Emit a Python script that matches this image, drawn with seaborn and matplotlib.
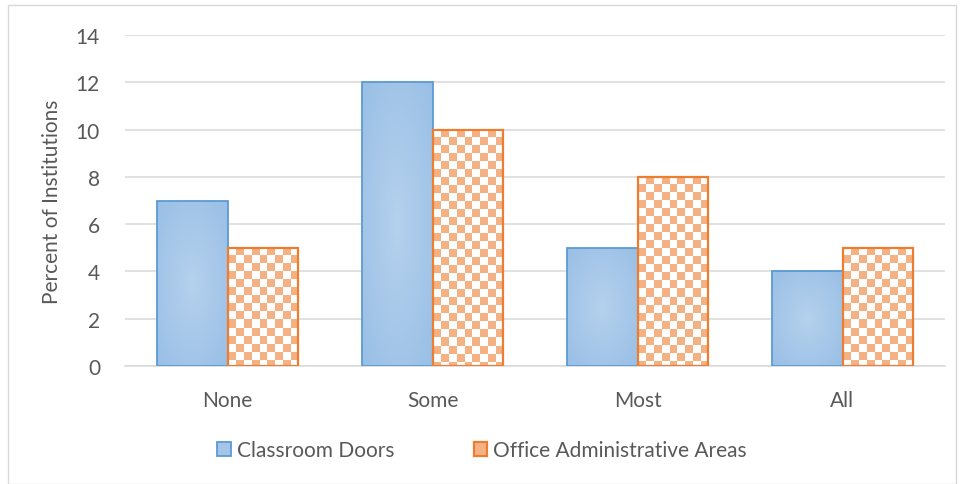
import numpy as np
import pandas as pd
import matplotlib
matplotlib.use("Agg")
import matplotlib.pyplot as plt
import seaborn as sns
from matplotlib.patches import Rectangle, Patch

# data
categories = ["None", "Some", "Most", "All"]
classroom_doors = [7, 12, 5, 4]
office_areas = [5, 10, 8, 5]
series_names = ["Classroom Doors", "Office Administrative Areas"]

df = pd.DataFrame({
    "Category": categories * 2,
    "Percent": classroom_doors + office_areas,
    "Series": [series_names[0]] * 4 + [series_names[1]] * 4,
})

sns.set_style("white")
plt.rcParams["font.family"] = ["Lato", "DejaVu Sans"]

txt = "#595959"
blue_edge = "#5B9BD5"
orange_edge = "#ED7D31"
orange_fill = "#F4B183"
fs = 15

fig = plt.figure(figsize=(9.64, 4.85), dpi=100)
ax = fig.add_axes([125 / 964, 1 - 367 / 485, 820 / 964, 331 / 485])

sns.barplot(data=df, x="Category", y="Percent", hue="Series",
            palette=["#A5C5E8", "white"], width=0.684, gap=0,
            saturation=1, legend=False, ax=ax, zorder=3)

ax.set_ylim(0, 14)
ax.set_xlim(-0.5, 3.5)
ax.set_yticks(range(0, 15, 2))
ax.yaxis.grid(True, color="#D9D9D9", linewidth=1.1, zorder=0)
ax.set_axisbelow(True)
for s in ["top", "right", "left"]:
    ax.spines[s].set_visible(False)
ax.spines["bottom"].set_color("#D9D9D9")
ax.spines["bottom"].set_linewidth(1.1)
ax.tick_params(axis="both", length=0, colors=txt, labelsize=fs)
ax.tick_params(axis="x", pad=17)
ax.tick_params(axis="y", pad=18)
ax.set_xlabel("")
ax.set_ylabel("Percent of Institutions", color=txt, fontsize=fs, labelpad=10)

# style the bars: gradient for blue, checkerboard for orange
n = len(categories)
patches = ax.patches[:2 * n]
yy, xx = np.mgrid[-1:1:120j, -1:1:60j]
rr = np.clip(np.sqrt(xx ** 2 + yy ** 2) / 1.4, 0, 1)
c_in = np.array([0.71, 0.82, 0.93])
c_out = np.array([0.60, 0.75, 0.90])
grad = c_in[None, None, :] * (1 - rr[..., None]) + c_out[None, None, :] * rr[..., None]
cell_h = 8 / 331 * 14
fc = matplotlib.colors.to_rgb(orange_fill)

for i, p in enumerate(patches):
    x0, y0 = p.get_x(), p.get_y()
    w, h = p.get_width(), p.get_height()
    p.set_facecolor("none")
    p.set_zorder(4)
    if i < n:
        p.set_edgecolor(blue_edge)
        p.set_linewidth(1.3)
        im = ax.imshow(grad, extent=[x0, x0 + w, y0, y0 + h], aspect="auto",
                       origin="lower", zorder=3, interpolation="bilinear")
        im.set_clip_path(p)
    else:
        p.set_edgecolor(orange_edge)
        p.set_linewidth(1.6)
        nx = 9
        ny = max(int(np.ceil(h / cell_h)), 1)
        chk = (np.add.outer(np.arange(ny), np.arange(nx)) % 2).astype(float)
        rgba = np.ones((ny, nx, 4))
        for k in range(3):
            rgba[..., k] = np.where(chk == 1, fc[k], 1.0)
        im = ax.imshow(rgba, extent=[x0, x0 + w, y0 + h - ny * cell_h, y0 + h],
                       aspect="auto", origin="upper", zorder=3,
                       interpolation="nearest")
        im.set_clip_path(p)

ax.set_xlim(-0.5, 3.5)
ax.set_ylim(0, 14)

# legend
handles = [
    Patch(facecolor="#A5C5E8", edgecolor=blue_edge, linewidth=1.3),
    Patch(facecolor=orange_fill, edgecolor=orange_edge, linewidth=1.6),
]
fig.legend(handles, series_names, loc="center", bbox_to_anchor=(0.5, 1 - 451 / 485),
           ncol=2, frameon=False, fontsize=fs, labelcolor=txt,
           handlelength=0.65, handleheight=0.65, handletextpad=0.3,
           columnspacing=3.8)

# outer chart border
fig.patches.append(Rectangle((8 / 964, 0), 1 - 16 / 964, 1 - 6 / 485,
                             transform=fig.transFigure, fill=False,
                             edgecolor="#D9D9D9", linewidth=1))

fig.savefig("out.png", dpi=100)
